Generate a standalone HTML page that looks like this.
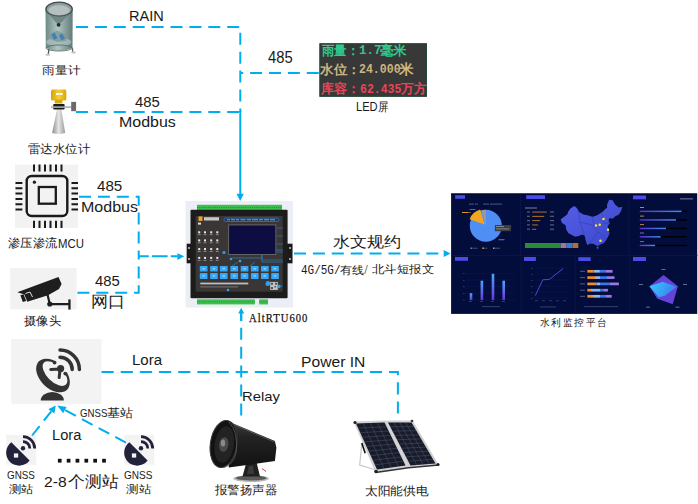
<!DOCTYPE html>
<html><head><meta charset="utf-8">
<style>
html,body{margin:0;padding:0;background:#fff;width:698px;height:504px;overflow:hidden;position:relative}
body{font-family:"Liberation Sans",sans-serif}
.t{position:absolute;white-space:nowrap;line-height:1;transform-origin:0 0}
svg{position:absolute;left:0;top:0}
</style></head><body>
<svg width="698" height="504" viewBox="0 0 698 504">
<defs>
<linearGradient id="gBody" x1="0" x2="1" y1="0" y2="0"><stop offset="0" stop-color="#6d8986"/><stop offset="0.45" stop-color="#b2c5c1"/><stop offset="1" stop-color="#5f7b78"/></linearGradient>
<linearGradient id="gCone" x1="0" x2="1"><stop offset="0" stop-color="#8c8c8c"/><stop offset="0.5" stop-color="#e6e6e6"/><stop offset="1" stop-color="#9a9a9a"/></linearGradient>
<linearGradient id="gYel" x1="0" x2="1"><stop offset="0" stop-color="#d9a400"/><stop offset="0.5" stop-color="#f5cf3a"/><stop offset="1" stop-color="#d8a800"/></linearGradient>
<linearGradient id="gBar" x1="0" x2="0" y1="0" y2="1"><stop offset="0" stop-color="#4aa6ff"/><stop offset="1" stop-color="#6a35e0"/></linearGradient>
<linearGradient id="gHB" x1="0" x2="1"><stop offset="0" stop-color="#5b2fd6"/><stop offset="1" stop-color="#3f8df0"/></linearGradient>
<linearGradient id="gRad" x1="0" x2="1" y1="0" y2="0.3"><stop offset="0" stop-color="#36ccff"/><stop offset="1" stop-color="#3a82ee"/></linearGradient>
<linearGradient id="gMap" x1="0" x2="1" y1="0" y2="1"><stop offset="0" stop-color="#5560e8"/><stop offset="1" stop-color="#3a46c8"/></linearGradient>
<linearGradient id="gSpk" x1="0" x2="0" y1="0" y2="1"><stop offset="0" stop-color="#404040"/><stop offset="0.35" stop-color="#222"/><stop offset="1" stop-color="#121212"/></linearGradient>
</defs>

<!-- ===== Rain gauge ===== -->
<g id="rain">
<path d="M45.5,9 L45.8,48 Q59,54 72.5,48 L72.7,9Z" fill="url(#gBody)"/>
<path d="M47,12 L58.6,25.5 L71,12Z" fill="#667f7d" opacity="0.85"/>
<circle cx="58.6" cy="24.8" r="1.9" fill="#222c2c"/>
<ellipse cx="58.8" cy="42" rx="12.5" ry="4.2" fill="#a9bcb9" opacity="0.8"/>
<path d="M50,34 L57,30.5 L67,35 L66,41 L57,42 L50,39Z" fill="#7d9896" opacity="0.8"/>
<path d="M51.5,34.5 L54.5,32.5 L57.5,38 L54,40Z" fill="#3f82b8"/>
<path d="M59,35.5 L62,33.5 L65,38.5 L61.5,40.5Z" fill="#3f82b8"/>
<ellipse cx="59.1" cy="48" rx="13.2" ry="3" fill="none" stroke="#4f6563" stroke-width="0.8"/>
<ellipse cx="59.1" cy="9" rx="13.8" ry="7.6" fill="#3e4a4a"/>
<ellipse cx="59.1" cy="9.2" rx="12.4" ry="6.4" fill="#8f9d9d"/>
<ellipse cx="59.1" cy="10.2" rx="10.6" ry="5" fill="#b5bfbf"/>
<path d="M49,49 L48.2,54.5" stroke="#555" stroke-width="1.3"/>
<path d="M72.4,48 L72.8,52.5" stroke="#666" stroke-width="1.3"/>
<ellipse cx="47.8" cy="54.8" rx="2.6" ry="1.1" fill="#c8c8c8"/>
<ellipse cx="73.6" cy="52.6" rx="2.6" ry="1.1" fill="#c8c8c8"/>
</g>

<!-- ===== Radar level gauge ===== -->
<g id="radar">
<path d="M57,109.5 L61.4,109.5 L65.2,133 Q58.6,135 52.1,133Z" fill="url(#gCone)"/>
<rect x="51" y="89.4" width="15.3" height="11" rx="1.5" fill="url(#gYel)"/>
<rect x="54.8" y="99.5" width="7.6" height="4" fill="#d9aa10"/>
<rect x="56" y="93" width="3" height="2" fill="#fff"/><rect x="59.5" y="93" width="3" height="2" fill="#fff"/>
<rect x="53.2" y="104" width="11.4" height="5.5" rx="1" fill="#1a1a1a"/>
<rect x="51" y="106.3" width="21" height="1.6" fill="#9fb3b8"/>
<rect x="71.2" y="101.9" width="4.9" height="9.3" fill="#6a6a6a"/>
</g>

<!-- ===== MCU chip ===== -->
<g id="mcu">
<rect x="15" y="164.6" width="63" height="63.4" fill="#f2f2f2"/>
<rect x="26.7" y="176" width="40.6" height="40" rx="5" fill="none" stroke="#1a1a1a" stroke-width="2.4"/>
<rect x="38.8" y="187" width="17" height="16.7" fill="none" stroke="#1a1a1a" stroke-width="2.3"/>
<circle cx="34.4" cy="182.2" r="1.6" fill="#1a1a1a"/>
<g stroke="#1a1a1a" stroke-width="2">
<path d="M34,164.6V171.5 M39.5,164.6V171.5 M45,164.6V171.5 M50.5,164.6V171.5 M56,164.6V171.5 M61.5,164.6V171.5"/>
<path d="M34,220.7V228 M39.5,220.7V228 M45,220.7V228 M50.5,220.7V228 M56,220.7V228 M61.5,220.7V228"/>
<path d="M15.5,183H22.4 M15.5,188.3H22.4 M15.5,193.6H22.4 M15.5,198.9H22.4 M15.5,204.2H22.4 M15.5,209.5H22.4"/>
<path d="M71.5,183H78 M71.5,188.3H78 M71.5,193.6H78 M71.5,198.9H78 M71.5,204.2H78 M71.5,209.5H78"/>
</g>
</g>

<!-- ===== Camera ===== -->
<g id="cam">
<rect x="10.1" y="267.9" width="66.5" height="41.5" fill="#f2f2f2"/>
<path d="M17.3,292.3 L58.5,276.9 L61.6,284.1 L59,289 L48,295.3 L27.3,301.8 L24.3,294.6Z" fill="#1e1e1e"/>
<path d="M25.5,293.5 L30,292 L32.5,297" fill="none" stroke="#f2f2f2" stroke-width="0.9"/>
<path d="M20.4,295.2 L23.6,294.2 L26.2,301 L22.8,302Z" fill="#1e1e1e"/>
<path d="M47.5,294.5 L49.8,304.2 L69,304.2" fill="none" stroke="#1e1e1e" stroke-width="2.2"/>
<circle cx="49.8" cy="304" r="2.6" fill="#1e1e1e"/>
<rect x="68.3" y="299.4" width="2.3" height="10.2" fill="#1e1e1e"/>
</g>

<!-- ===== LED panel ===== -->
<g id="led">
<rect x="319.5" y="43.3" width="107.4" height="53.4" fill="#383838"/>
<rect x="319.9" y="43.8" width="106.6" height="52.5" fill="none" stroke="#1f4a36" stroke-width="0.9"/>
</g>

<!-- ===== RTU ===== -->
<g id="rtu">
<rect x="185.5" y="201" width="107.5" height="106.6" fill="#ebeff5"/>
<rect x="197" y="204.8" width="85" height="5.2" fill="#3cbf4c"/>
<rect x="197" y="299.3" width="57.9" height="5.1" fill="#3cbf4c"/>
<rect x="259.2" y="299.3" width="8.8" height="5.1" fill="#3cbf4c"/>
<path d="M197,207.5H282 M197,301.8H255 M259,301.8H268" stroke="#1d6a2a" stroke-width="0.6" stroke-dasharray="1 1.2"/>
<rect x="186.7" y="243.7" width="5" height="19.6" fill="#1a1a1a"/>
<rect x="286.9" y="243.7" width="5.6" height="19.6" fill="#1a1a1a"/>
<circle cx="189" cy="248" r="0.9" fill="#ddd"/><circle cx="189" cy="259" r="0.9" fill="#ddd"/>
<circle cx="290" cy="248" r="0.9" fill="#ddd"/><circle cx="290" cy="259" r="0.9" fill="#ddd"/>
<rect x="190.5" y="209.8" width="97.1" height="88.5" rx="1" fill="#1c1c1c"/>
<rect x="195.7" y="216" width="87" height="75.7" fill="#3a3636"/>
<path d="M262,255 V262 H283 M270,250 H283 M255,262 L250,266 M232,258 H262 M272,286 H283 M238,262 L232,266" stroke="#2a8ee0" stroke-width="0.6" fill="none"/>
<circle cx="224" cy="252.5" r="1.6" fill="#2a9ff0"/><circle cx="231" cy="259" r="1.3" fill="#2a9ff0"/><circle cx="240" cy="261" r="1.3" fill="#36a6f6"/>
<circle cx="268" cy="283" r="2" fill="#2a9ff0"/><circle cx="228" cy="290" r="1.2" fill="#36a6f6"/>
<rect x="198.5" y="216.4" width="4" height="4.5" fill="#f0a030"/>
<rect x="204" y="217.2" width="15" height="3.3" fill="#c8c8c8"/>
<rect x="223.9" y="218.1" width="55" height="3.4" rx="1.7" fill="#2f3440" stroke="#2a8cff" stroke-width="0.6"/>
<path d="M227,219.8h3M231,219.8h4M236,219.8h3M240.5,219.8h5M247,219.8h4M252,219.8h6M259,219.8h4M264,219.8h5M270,219.8h5" stroke="#5aaaff" stroke-width="1.1"/>
<rect x="198" y="222.6" width="3" height="2" fill="#ddd"/>
<rect x="228.2" y="224.5" width="48.1" height="30.5" fill="#6a6a6a"/>
<rect x="229.1" y="225.4" width="46.3" height="28.7" fill="#0d0d42"/>
<rect x="198.2" y="231.3" width="2" height="2" fill="#e8e8e8"/><rect x="197.7" y="234.3" width="3" height="0.8" fill="#9a9a9a"/>
<rect x="204.0" y="231.3" width="2" height="2" fill="#e8e8e8"/><rect x="203.5" y="234.3" width="3" height="0.8" fill="#9a9a9a"/>
<rect x="210.2" y="231.3" width="2" height="2" fill="#e8e8e8"/><rect x="209.7" y="234.3" width="3" height="0.8" fill="#9a9a9a"/>
<rect x="216.3" y="231.3" width="2" height="2" fill="#e8e8e8"/><rect x="215.8" y="234.3" width="3" height="0.8" fill="#9a9a9a"/>
<rect x="198.2" y="239.4" width="2" height="2" fill="#e8e8e8"/><rect x="197.7" y="242.4" width="3" height="0.8" fill="#9a9a9a"/>
<rect x="204.0" y="239.4" width="2" height="2" fill="#e8e8e8"/><rect x="203.5" y="242.4" width="3" height="0.8" fill="#9a9a9a"/>
<rect x="210.2" y="239.4" width="2" height="2" fill="#e8e8e8"/><rect x="209.7" y="242.4" width="3" height="0.8" fill="#9a9a9a"/>
<rect x="216.3" y="239.4" width="2" height="2" fill="#e8e8e8"/><rect x="215.8" y="242.4" width="3" height="0.8" fill="#9a9a9a"/>
<rect x="198.2" y="248.1" width="2" height="2" fill="#e8e8e8"/><rect x="197.7" y="251.1" width="3" height="0.8" fill="#9a9a9a"/>
<rect x="204.0" y="248.1" width="2" height="2" fill="#e8e8e8"/><rect x="203.5" y="251.1" width="3" height="0.8" fill="#9a9a9a"/>
<rect x="210.2" y="248.1" width="2" height="2" fill="#e8e8e8"/><rect x="209.7" y="251.1" width="3" height="0.8" fill="#9a9a9a"/>
<rect x="216.3" y="248.1" width="2" height="2" fill="#e8e8e8"/><rect x="215.8" y="251.1" width="3" height="0.8" fill="#9a9a9a"/>
<rect x="198.2" y="256.9" width="2" height="2" fill="#e8e8e8"/><rect x="197.7" y="259.9" width="3" height="0.8" fill="#9a9a9a"/>
<rect x="204.0" y="256.9" width="2" height="2" fill="#e8e8e8"/><rect x="203.5" y="259.9" width="3" height="0.8" fill="#9a9a9a"/>
<rect x="210.2" y="256.9" width="2" height="2" fill="#e8e8e8"/><rect x="209.7" y="259.9" width="3" height="0.8" fill="#9a9a9a"/>
<rect x="216.3" y="256.9" width="2" height="2" fill="#e8e8e8"/><rect x="215.8" y="259.9" width="3" height="0.8" fill="#9a9a9a"/>
<rect x="199.8" y="266" width="7.7" height="5.6" rx="0.6" fill="#36a6f6"/>
<rect x="210.1" y="266" width="7.7" height="5.6" rx="0.6" fill="#36a6f6"/>
<rect x="219.9" y="266" width="7.7" height="5.6" rx="0.6" fill="#36a6f6"/>
<rect x="230.4" y="266" width="7.7" height="5.6" rx="0.6" fill="#36a6f6"/>
<rect x="240.7" y="266" width="7.7" height="5.6" rx="0.6" fill="#36a6f6"/>
<rect x="250.9" y="266" width="7.7" height="5.6" rx="0.6" fill="#36a6f6"/>
<rect x="261" y="266" width="7.7" height="5.6" rx="0.6" fill="#36a6f6"/>
<rect x="271.2" y="266" width="7.7" height="5.6" rx="0.6" fill="#36a6f6"/>
<rect x="199.8" y="273.1" width="7.7" height="5.9" rx="0.6" fill="#36a6f6"/>
<rect x="210.1" y="273.1" width="7.7" height="5.9" rx="0.6" fill="#36a6f6"/>
<rect x="219.9" y="273.1" width="7.7" height="5.9" rx="0.6" fill="#36a6f6"/>
<rect x="230.4" y="273.1" width="7.7" height="5.9" rx="0.6" fill="#36a6f6"/>
<rect x="240.7" y="273.1" width="7.7" height="5.9" rx="0.6" fill="#36a6f6"/>
<rect x="250.9" y="273.1" width="7.7" height="5.9" rx="0.6" fill="#36a6f6"/>
<rect x="261" y="273.1" width="7.7" height="5.9" rx="0.6" fill="#36a6f6"/>
<rect x="271.2" y="273.1" width="7.7" height="5.9" rx="0.6" fill="#36a6f6"/>
<path d="M202.4,268.8h2.5M212.7,268.8h2.5M222.5,268.8h2.5M233.0,268.8h2.5M243.3,268.8h2.5M253.5,268.8h2.5M263.6,268.8h2.5M273.8,268.8h2.5M202.4,275.9h2.5M212.7,275.9h2.5M222.5,275.9h2.5M233.0,275.9h2.5M243.3,275.9h2.5M253.5,275.9h2.5M263.6,275.9h2.5M273.8,275.9h2.5" stroke="#d8f0ff" stroke-width="0.8"/>
<path d="M277,228H283M277,236H283M277,244H283M277,252H283M262,255V260H283" stroke="#2a8ee0" stroke-width="0.5" fill="none"/>
<rect x="200.3" y="282.6" width="48" height="1.8" fill="#bdbdbd"/>
<rect x="200.3" y="286.4" width="38" height="1" fill="#777"/>
<rect x="270.2" y="281.9" width="7.6" height="8" fill="#c4c4c4"/>
<path d="M271,282.7h2v2h-2z M275,282.7h2v2h-2z M271,286.9h2v2h-2z M274.5,286h1.5v1.5h-1.5z" fill="#555"/>
<circle cx="267.8" cy="283.7" r="2.3" fill="#2aa3f5"/><circle cx="278.9" cy="286.5" r="1.7" fill="#2aa3f5"/>
</g>

<!-- ===== Dashboard ===== -->
<g id="dash">
<rect x="451.1" y="193.5" width="245.9" height="120.4" fill="#030d3c"/>
<rect x="451.1" y="193.5" width="245.9" height="1" fill="#020626"/>
<rect x="697" y="193.5" width="1" height="120.4" fill="#c8cad4"/>
<g stroke="#0f1a55" stroke-width="0.6">
<path d="M520.4,194V255.4 M628.8,194V255.4 M521.3,255.4V313.7 M575,255.4V313.7 M629.4,255.4V313.7 M451.2,255.4H697.6"/>
</g>
<g fill="#4b4be8">
<rect x="455.2" y="195.2" width="9.8" height="3.6"/>
<rect x="526.2" y="195.2" width="18.8" height="3.8"/>
<rect x="633" y="195.5" width="13" height="3.8"/>
<rect x="455" y="257" width="13" height="3.8"/>
<rect x="524" y="257" width="11.9" height="4"/>
<rect x="578.3" y="257.2" width="12.4" height="3.8"/>
<rect x="633" y="257" width="13" height="4"/>
</g>
<!-- pie -->
<circle cx="485.8" cy="225.8" r="16" fill="#4f8ef5"/>
<path d="M485.8,225.8 L481.6,210.4 A16,16 0 0 1 485.8,209.8Z" fill="#9a9a9a"/>
<path d="M484.6,224.6 L469.6,219.2 A16,16 0 0 1 480.2,209.6Z" fill="#f5a41e"/>
<rect x="494.9" y="225" width="16.2" height="6.2" fill="#3c3c44"/>
<rect x="496" y="226" width="8" height="0.8" fill="#999"/><rect x="496" y="228.5" width="13" height="0.8" fill="#999"/>
<g fill="#9aa0c0" opacity="0.5"><rect x="469" y="203.6" width="5" height="1"/><rect x="475" y="203.6" width="3" height="1"/><rect x="483" y="203.6" width="6" height="1"/><rect x="490" y="203.6" width="12" height="1"/></g>
<rect x="462" y="212" width="6" height="0.9" fill="#f5a41e"/><rect x="468" y="212.3" width="3" height="0.5" fill="#f5a41e"/>
<rect x="469.5" y="209" width="6" height="0.9" fill="#aaa" opacity="0.6"/>
<rect x="498.5" y="239.3" width="6" height="0.9" fill="#4f8ef5"/>
<rect x="470.5" y="247.5" width="1.6" height="1.4" fill="#4f8ef5"/><rect x="482.3" y="247.5" width="1.6" height="1.4" fill="#f5a41e"/><rect x="493" y="247.5" width="1.6" height="1.4" fill="#aaa"/><g fill="#9aa0c0" opacity="0.45"><rect x="472.5" y="247.7" width="5" height="1"/><rect x="484.3" y="247.7" width="3" height="1"/><rect x="495" y="247.7" width="5" height="1"/></g>
<!-- map panel -->
<path d="M560.6,219.5 L563.1,217.4 L567.2,214.5 L568.2,211.7 L570.2,208.8 L574.2,205.9 L576.3,207.4 L578.3,210.2 L578.8,211.7 L583.3,214.5 L587.4,215.2 L592.4,216.7 L595.4,215.9 L598.5,214.5 L601.5,212.4 L603.5,210.9 L605.5,208.8 L607.1,208.1 L607.1,204.5 L609.1,199.8 L612.6,200.2 L615.1,204.5 L618.7,207.4 L622.4,207.1 L620.7,211.7 L618.7,214.5 L617.7,215.2 L615.6,215.9 L612.6,218.8 L609.6,218.1 L608.6,220.2 L609.6,222.4 L606.5,223.1 L610.1,223.1 L607.6,226.0 L608.6,230.3 L609.6,233.1 L608.1,236.7 L606.5,239.5 L604.0,243.1 L600.5,244.6 L597.5,246.0 L595.9,245.3 L593.4,243.8 L589.4,243.8 L587.4,245.3 L585.8,241.0 L584.8,236.0 L582.3,234.5 L578.8,236.0 L575.2,236.7 L572.2,235.3 L568.2,233.1 L566.2,229.5 L565.6,225.2 L562.1,223.1Z M596.5,247 L598.5,246.5 L598.8,248.5 L596.8,248.8Z" fill="url(#gMap)"/>
<path d="M578.3,210.2 L580,222 L584.8,236 M580,222 L592,225 L598,232 L606.5,239.5 M592.4,216.7 L594,226 M598,232 L589.4,243.8 M601.5,212.4 L604,224 L609.6,222.4" stroke="#2f38a8" stroke-width="0.5" fill="none"/>
<g fill="#f7e23a"><circle cx="603.5" cy="219" r="1.3"/><circle cx="596" cy="225.5" r="1.2"/><circle cx="599.7" cy="224.8" r="1.2"/><circle cx="608" cy="229.7" r="1.2"/><circle cx="600.5" cy="240.8" r="1.3"/></g>
<rect x="525" y="207.5" width="12" height="1" fill="#ccc" opacity="0.6"/>
<g fill="#c07a2a"><rect x="532.2" y="211.6" width="14.6" height="0.9"/><rect x="532.2" y="215.9" width="12" height="0.9"/><rect x="532.2" y="220.2" width="8" height="0.9"/><rect x="532.2" y="224.5" width="6" height="0.9"/><rect x="532.2" y="228.8" width="4" height="0.9"/></g>
<g fill="#aab" opacity="0.5"><rect x="527" y="211.4" width="3" height="1.2"/><rect x="527" y="215.7" width="3" height="1.2"/><rect x="527" y="220" width="3" height="1.2"/><rect x="527" y="224.3" width="3" height="1.2"/><rect x="527" y="228.6" width="3" height="1.2"/><rect x="550" y="211.4" width="4" height="1.2"/><rect x="550" y="215.7" width="4" height="1.2"/><rect x="550" y="220" width="4" height="1.2"/><rect x="550" y="224.3" width="4" height="1.2"/><rect x="550" y="228.6" width="4" height="1.2"/></g>
<rect x="525" y="243" width="35.6" height="5" fill="#2a8a3c"/>
<rect x="560.6" y="243" width="6" height="5" fill="#9a7a98"/>
<rect x="566.6" y="243" width="6" height="5" fill="#3a7ccc"/>
<rect x="572.6" y="243" width="5.7" height="5" fill="#b0703a"/>
<!-- bars panel -->
<g fill="#000">
<rect x="639.7" y="210.6" width="47.3" height="1.5"/><rect x="639.7" y="219.2" width="47.3" height="1.5"/><rect x="639.7" y="227.7" width="47.3" height="1.5"/><rect x="639.7" y="236.1" width="47.3" height="1.5"/><rect x="639.7" y="244.7" width="47.3" height="1.5"/>
</g>
<g fill="url(#gHB)">
<rect x="639.7" y="210.6" width="41.9" height="1.5"/><rect x="639.7" y="219.2" width="36.3" height="1.5"/><rect x="639.7" y="227.7" width="26.3" height="1.5"/><rect x="639.7" y="236.1" width="20.9" height="1.5"/><rect x="639.7" y="244.7" width="15.3" height="1.5"/>
</g>
<g fill="#d8b040" opacity="0.8"><rect x="640" y="207" width="4" height="1"/><rect x="640" y="215.6" width="4" height="1"/><rect x="640" y="224.1" width="4" height="1"/></g>
<g fill="#bbb" opacity="0.6"><rect x="640" y="232.5" width="4" height="1"/><rect x="640" y="241.1" width="4" height="1"/><rect x="680" y="198.3" width="13" height="1.1"/></g>
<!-- bar chart -->
<g stroke="#0f1a58" stroke-width="0.4"><path d="M466,273.5H515 M466,280H515 M466,286.5H515 M466,293H515 M466,300H515"/></g>
<g fill="url(#gBar)">
<rect x="469.7" y="293.2" width="2.6" height="6.8"/><rect x="480.6" y="280.7" width="2.6" height="19.3"/><rect x="491.7" y="273.8" width="2.6" height="26.2"/><rect x="502.4" y="280.7" width="2.6" height="19.3"/>
</g>
<rect x="482" y="306.2" width="18" height="0.9" fill="#8a9ac8" opacity="0.4"/>
<!-- line chart -->
<g stroke="#0f1a58" stroke-width="0.4"><path d="M534,268H568 M534,274H568 M534,280H568 M534,286H568 M534,292H568 M534,298H568"/></g>
<path d="M535.3,295.6 L542.8,279.8 L549.3,279.4 L563.2,268.6" fill="none" stroke="#5a4ae8" stroke-width="0.9"/>
<g fill="#8a9ac8" opacity="0.35"><rect x="535" y="300.3" width="3" height="0.9"/><rect x="542" y="300.3" width="3" height="0.9"/><rect x="549" y="300.3" width="3" height="0.9"/><rect x="556" y="300.3" width="3" height="0.9"/><rect x="563" y="300.3" width="3" height="0.9"/><rect x="531" y="268" width="1.6" height="0.8"/><rect x="531" y="274" width="1.6" height="0.8"/><rect x="531" y="280" width="1.6" height="0.8"/><rect x="531" y="286" width="1.6" height="0.8"/><rect x="531" y="292" width="1.6" height="0.8"/><rect x="531" y="298" width="1.6" height="0.8"/><rect x="469" y="301" width="3" height="0.9"/><rect x="480" y="301" width="3" height="0.9"/><rect x="491" y="301" width="3" height="0.9"/><rect x="502" y="301" width="3" height="0.9"/><rect x="463" y="273.2" width="1.6" height="0.8"/><rect x="463" y="280" width="1.6" height="0.8"/><rect x="463" y="286.3" width="1.6" height="0.8"/><rect x="463" y="293" width="1.6" height="0.8"/><rect x="463" y="299.6" width="1.6" height="0.8"/></g>
<rect x="540" y="306.5" width="16" height="0.9" fill="#8a9ac8" opacity="0.4"/>
<!-- stacked bars -->
<rect x="587.3" y="269.95" width="6.3" height="2.7" fill="#f28c1e"/>
<rect x="593.6" y="269.95" width="6.3" height="2.7" fill="#8ab8f0"/>
<rect x="599.9" y="269.95" width="6.1" height="2.7" fill="#3a78e8"/>
<rect x="606" y="269.95" width="6.6" height="2.7" fill="#9a7ae0"/>
<rect x="580" y="270.80" width="5" height="1" fill="#aab" opacity="0.5"/>
<rect x="587.3" y="276.25" width="7.7" height="2.7" fill="#f28c1e"/>
<rect x="595" y="276.25" width="5.0" height="2.7" fill="#8ab8f0"/>
<rect x="600" y="276.25" width="7.0" height="2.7" fill="#3a78e8"/>
<rect x="607" y="276.25" width="7.5" height="2.7" fill="#9a7ae0"/>
<rect x="580" y="277.10" width="5" height="1" fill="#aab" opacity="0.5"/>
<rect x="587.3" y="282.55" width="9.1" height="2.7" fill="#f28c1e"/>
<rect x="596.4" y="282.55" width="3.6" height="2.7" fill="#8ab8f0"/>
<rect x="600" y="282.55" width="9.8" height="2.7" fill="#3a78e8"/>
<rect x="609.8" y="282.55" width="9.1" height="2.7" fill="#9a7ae0"/>
<rect x="580" y="283.40" width="5" height="1" fill="#aab" opacity="0.5"/>
<rect x="587.3" y="288.85" width="3.7" height="2.7" fill="#f28c1e"/>
<rect x="591" y="288.85" width="9.0" height="2.7" fill="#8ab8f0"/>
<rect x="600" y="288.85" width="4.0" height="2.7" fill="#3a78e8"/>
<rect x="604" y="288.85" width="3.9" height="2.7" fill="#9a7ae0"/>
<rect x="580" y="289.70" width="5" height="1" fill="#aab" opacity="0.5"/>
<rect x="587.3" y="294.95" width="5.7" height="2.7" fill="#f28c1e"/>
<rect x="593" y="294.95" width="7.0" height="2.7" fill="#8ab8f0"/>
<rect x="600" y="294.95" width="6.0" height="2.7" fill="#3a78e8"/>
<rect x="606" y="294.95" width="5.7" height="2.7" fill="#9a7ae0"/>
<rect x="580" y="295.80" width="5" height="1" fill="#aab" opacity="0.5"/>
<rect x="584" y="306.2" width="34" height="0.9" fill="#8a9ac8" opacity="0.4"/>
<!-- radar -->
<path d="M663.4,276 L677.5,286.3 L672.1,302.8 L654.7,302.8 L649.3,286.3Z" fill="none" stroke="#0a1448" stroke-width="0.5"/>
<path d="M663.6,274.9 L677.9,286.3 L672.7,304.2 L657.3,298.7 L649.4,286.3Z" fill="#6443d8"/>
<path d="M649.4,286.3 L662.8,281.8 L676.7,286.8 L664.8,295.7 L658.8,297.2Z" fill="url(#gRad)"/>
<g fill="#c8cce0" opacity="0.55"><rect x="661.5" y="269" width="4" height="0.9"/><rect x="683" y="284" width="4" height="0.9"/><rect x="639" y="284" width="4" height="0.9"/><rect x="646" y="306.7" width="4" height="0.9"/><rect x="675.5" y="306.7" width="4" height="0.9"/></g>
</g>

<!-- ===== GNSS base ===== -->
<g id="gnss">
<rect x="11.2" y="339" width="90.3" height="65.1" fill="#f3f3f3"/>
<g transform="translate(53 375.5) rotate(45)">
<path fill-rule="evenodd" fill="#333" d="M-20,0 A20,13 0 1 0 20,0 A20,13 0 1 0 -20,0Z M-15.5,-2.8 A15.5,8 0 1 0 15.5,-2.8 A15.5,8 0 1 0 -15.5,-2.8Z"/>
</g>
<path d="M55.5,372.5 L54.6,355 L62,352 L80,366 L80,373.6Z" fill="#f3f3f3"/>
<circle cx="54.6" cy="362.6" r="1.9" fill="#333"/>
<circle cx="65.3" cy="373.6" r="1.9" fill="#333"/>
<circle cx="60.6" cy="368.6" r="3.6" fill="#333"/>
<path d="M60,369 L50.8,369.6 M60,369 L59.2,377.6" stroke="#333" stroke-width="3" stroke-linecap="round"/>
<path d="M60,357.2 A12.2,12.2 0 0 1 72.2,369.4 M60,350 A19.4,19.4 0 0 1 79.4,369.4" fill="none" stroke="#333" stroke-width="3.5" stroke-linecap="round"/>
<path d="M40.7,400.6 A11.6,8.6 0 0 1 63.9,400.6Z" fill="#333"/>
</g>

<!-- ===== small GNSS ===== -->
<g id="gs1">
<rect x="6.3" y="434.8" width="30" height="30" fill="#f3f3f3"/>
<path d="M11.3,442.3 A13,13 0 1 0 29.6,460.4Z" fill="#22223a"/>
<rect x="13.9" y="453.4" width="4.3" height="4.2" fill="#f3f3f3"/>
<circle cx="23" cy="448.3" r="2.2" fill="#22223a"/>
<path d="M23,441.6 A6.8,6.8 0 0 1 29.8,448.4 M23,436.7 A11.7,11.7 0 0 1 34.7,448.4" fill="none" stroke="#22223a" stroke-width="2.8"/>
</g>
<use href="#gs1" x="118" y="0"/>
<g fill="#111">
<rect x="57.9" y="458.8" width="3.7" height="3.8"/><rect x="66.75" y="458.8" width="3.7" height="3.8"/><rect x="75.6" y="458.8" width="3.7" height="3.8"/><rect x="84.45" y="458.8" width="3.7" height="3.8"/><rect x="93.3" y="458.8" width="3.7" height="3.8"/><rect x="102.15" y="458.8" width="3.7" height="3.8"/>
</g>

<!-- ===== speaker ===== -->
<g id="spk">
<ellipse cx="251.1" cy="478.6" rx="17.8" ry="3.4" fill="#b4b4b4"/>
<ellipse cx="251.1" cy="478" rx="15.2" ry="2.5" fill="#5a5a5a"/>
<path d="M246.5,462 L256.5,462 L260,476.5 L242.5,476.5Z" fill="#202020"/>
<path d="M249,466 L253,466 L254,474 L247,474Z" fill="#3a3a3a"/>
<path d="M262,468.5 L266,471.5" stroke="#c03030" stroke-width="0.9"/>
<path d="M227.3,420.9 L274.9,441 L276.4,447.7 L274.9,461 L228.8,467.5Z" fill="url(#gSpk)"/>
<path d="M229,422.5 L274.5,442" stroke="#6a6a6a" stroke-width="0.7"/>
<ellipse cx="223.6" cy="444" rx="13.2" ry="23.8" transform="rotate(9 223.6 444)" fill="#121212" stroke="#3a3a3a" stroke-width="1"/>
<ellipse cx="224.3" cy="444.5" rx="9.6" ry="18.5" transform="rotate(9 224.3 444.5)" fill="#232323"/>
<path d="M229,422 Q238.5,432 236.2,452 Q234,464 224,467.6" fill="none" stroke="#5a5a5a" stroke-width="0.8"/>
<ellipse cx="223.8" cy="444.5" rx="4.6" ry="7.4" transform="rotate(9 223.8 444.5)" fill="#4a4a4a"/>
<ellipse cx="223" cy="443" rx="2.2" ry="3.6" fill="#8a8a8a"/>
</g>

<!-- ===== solar ===== -->
<g id="solar">
<path d="M361.8,443.6 L359.7,465 L375.5,469.8" fill="none" stroke="#c8c8c8" stroke-width="1.2"/>
<path d="M353.5,421.6 L385.8,420.5 L408.5,467.7 L375.5,472.5Z" fill="#d0d0d0"/>
<path d="M385.8,420.5 L412.6,420.5 L438.8,465 L408.5,467.7Z" fill="#d0d0d0"/>
<path d="M356,423.5 L384.5,422.5 L405.5,465.5 L377,469.5Z" fill="#171b2a"/>
<path d="M388,422.5 L411.5,422.5 L435.5,463.5 L410.5,465.5Z" fill="#171b2a"/>
<path d="M363.1,423.2L384.1,468.5M370.2,423.0L391.2,467.5M377.4,422.8L398.4,466.5M358.1,428.1L386.6,426.8M360.2,432.7L388.7,431.1M362.3,437.3L390.8,435.4M364.4,441.9L392.9,439.7M366.5,446.5L395.0,444.0M368.6,451.1L397.1,448.3M370.7,455.7L399.2,452.6M372.8,460.3L401.3,456.9M374.9,464.9L403.4,461.2M393.9,422.5L416.8,465.0M399.8,422.5L423.0,464.5M405.6,422.5L429.2,464.0M390.2,426.8L413.9,426.6M392.5,431.1L416.3,430.7M394.8,435.4L418.7,434.8M397.0,439.7L421.1,438.9M399.2,444.0L423.5,443.0M401.5,448.3L425.9,447.1M403.8,452.6L428.3,451.2M406.0,456.9L430.7,455.3M408.2,461.2L433.1,459.4" stroke="#50566c" stroke-width="0.5" fill="none"/>
<path d="M361.8,443 L365.2,453.3" stroke="#111" stroke-width="1.6"/>
<circle cx="355" cy="422.5" r="1.6" fill="#222"/><path d="M375.5,472.5 L408.5,467.7 L438.8,465" stroke="#333" stroke-width="1.4" fill="none"/><circle cx="376" cy="471.5" r="1.8" fill="#222"/><circle cx="438" cy="464.5" r="1.6" fill="#222"/><circle cx="412" cy="421" r="1.3" fill="#333"/>
</g>

<!-- LINES -->
<g fill="none" stroke="#00adef" stroke-width="2" stroke-dasharray="12 6.9">
<path d="M76,27 H240.3 V112"/>
<path d="M76,112.1 H240.3"/>
<path d="M240.3,73 H319" stroke-dashoffset="9.1"/>
<path d="M79,196.7 H138.7 V256.3"/>
<path d="M77.4,292.7 H138.7 V256.3"/>
<path d="M138.4,256.2 H177.5" stroke-dasharray="15.6 3.2" stroke-dashoffset="5.2"/>
<path d="M294,253.5 H444"/>
<path d="M101.5,371.9 H397.9 V413.9" stroke-dasharray="12.2 6.97"/>
<path d="M241.2,415.4 V313"/>
<path d="M32.1,435.5 L51.5,411"/>
<path d="M125.9,442.6 L63,409"/>
</g>
<g stroke="#00adef" stroke-width="2" fill="none">
<path d="M240.3,111 V194"/>
<path d="M241.2,313 V320.8"/>
</g>
<g fill="#00adef">
<path d="M236.6,193.8 L243.8,193.8 L240.2,200.9Z"/>
<path d="M177.3,253.2 L184.3,256.2 L177.3,260Z"/>
<path d="M443.7,249.9 L450.5,253.5 L443.7,257.1Z"/>
<path d="M238.2,313.6 L244.2,313.6 L241.2,307.8Z"/>
<path d="M55.7,405.5 L54.4,413.6 L48.3,409.2Z"/>
<path d="M57.3,405.5 L66.6,406.9 L63.1,413.3Z"/>
</g>
</svg>
<div class="t" style="left:129.44px;top:9.03px;font-family:'Liberation Sans', sans-serif;font-size:14.68px;color:#1a1a1a;transform:scaleX(0.992);">RAIN</div>
<div class="t" style="left:134.52px;top:93.68px;font-family:'Liberation Sans', sans-serif;font-size:15.27px;color:#1a1a1a;transform:scaleX(0.975);">485</div>
<div class="t" style="left:118.57px;top:115.03px;font-family:'Liberation Sans', sans-serif;font-size:14.17px;color:#1a1a1a;transform:scaleX(1.128);">Modbus</div>
<div class="t" style="left:267.56px;top:48.86px;font-family:'Liberation Sans', sans-serif;font-size:16.11px;color:#1a1a1a;transform:scaleX(0.917);">485</div>
<div class="t" style="left:97.40px;top:178.88px;font-family:'Liberation Sans', sans-serif;font-size:14.86px;color:#1a1a1a;transform:scaleX(1.020);">485</div>
<div class="t" style="left:81.30px;top:199.53px;font-family:'Liberation Sans', sans-serif;font-size:14.67px;color:#1a1a1a;transform:scaleX(1.092);">Modbus</div>
<div class="t" style="left:94.76px;top:273.77px;font-family:'Liberation Sans', sans-serif;font-size:14.95px;color:#1a1a1a;transform:scaleX(0.994);">485</div>
<div class="t" style="left:90.60px;top:293.83px;font-family:'Liberation Sans', sans-serif;font-size:15.56px;color:#1a1a1a;transform:scaleX(1.068);">网口</div>
<div class="t" style="left:132.17px;top:352.29px;font-family:'Liberation Sans', sans-serif;font-size:15.43px;color:#1a1a1a;transform:scaleX(0.976);">Lora</div>
<div class="t" style="left:300.62px;top:354.74px;font-family:'Liberation Sans', sans-serif;font-size:14.86px;color:#1a1a1a;transform:scaleX(1.053);">Power IN</div>
<div class="t" style="left:242.48px;top:391.02px;font-family:'Liberation Sans', sans-serif;font-size:12.84px;color:#1a1a1a;transform:scaleX(1.158);">Relay</div>
<div class="t" style="left:52.30px;top:427.29px;font-family:'Liberation Sans', sans-serif;font-size:15.34px;color:#1a1a1a;transform:scaleX(0.954);">Lora</div>
<div class="t" style="left:79.56px;top:407.58px;font-family:'Liberation Sans', sans-serif;font-size:10.79px;color:#1a1a1a;transform:scaleX(0.894);">GNSS</div>
<div class="t" style="left:107.26px;top:406.61px;font-family:'Liberation Sans', sans-serif;font-size:11.68px;color:#1a1a1a;transform:scaleX(1.090);">基站</div>
<div class="t" style="left:6.84px;top:469.16px;font-family:'Liberation Sans', sans-serif;font-size:11.75px;color:#1a1a1a;transform:scaleX(0.836);">GNSS</div>
<div class="t" style="left:8.64px;top:483.96px;font-family:'Liberation Sans', sans-serif;font-size:11.10px;color:#1a1a1a;transform:scaleX(1.126);">测站</div>
<div class="t" style="left:123.64px;top:469.16px;font-family:'Liberation Sans', sans-serif;font-size:11.75px;color:#1a1a1a;transform:scaleX(0.852);">GNSS</div>
<div class="t" style="left:126.09px;top:483.96px;font-family:'Liberation Sans', sans-serif;font-size:11.10px;color:#1a1a1a;transform:scaleX(1.142);">测站</div>
<div class="t" style="left:44.20px;top:474.86px;font-family:'Liberation Sans', sans-serif;font-size:14.29px;color:#1a1a1a;transform:scaleX(1.097);">2-8</div>
<div class="t" style="left:67.73px;top:473.58px;font-family:'Liberation Sans', sans-serif;font-size:15.60px;color:#1a1a1a;transform:scaleX(1.048);">个测站</div>
<div class="t" style="left:42.18px;top:64.96px;font-family:'Liberation Sans', sans-serif;font-size:11.10px;color:#1a1a1a;transform:scaleX(1.161);">雨量计</div>
<div class="t" style="left:27.92px;top:142.93px;font-family:'Liberation Sans', sans-serif;font-size:12.14px;color:#1a1a1a;transform:scaleX(1.036);">雷达水位计</div>
<div class="t" style="left:7.58px;top:236.60px;font-family:'Liberation Sans', sans-serif;font-size:12.30px;color:#1a1a1a;transform:scaleX(1.029);">渗压渗流</div>
<div class="t" style="left:58.05px;top:237.70px;font-family:'Liberation Sans', sans-serif;font-size:12.00px;color:#1a1a1a;transform:scaleX(0.949);">MCU</div>
<div class="t" style="left:24.08px;top:314.99px;font-family:'Liberation Sans', sans-serif;font-size:12.41px;color:#1a1a1a;transform:scaleX(1.025);">摄像头</div>
<div class="t" style="left:356.37px;top:100.35px;font-family:'Liberation Sans', sans-serif;font-size:13.00px;color:#1a1a1a;transform:scaleX(0.856);">LED</div>
<div class="t" style="left:377.70px;top:100.72px;font-family:'Liberation Sans', sans-serif;font-size:12.33px;color:#1a1a1a;transform:scaleX(0.884);">屏</div>
<div class="t" style="left:248.55px;top:311.74px;font-family:'Liberation Serif', serif;font-size:12.64px;color:#111;transform:scaleX(0.838);letter-spacing:0.1em;-webkit-text-stroke:0.25px #111">AltRTU600</div>
<div class="t" style="left:332.97px;top:234.63px;font-family:'Liberation Sans', sans-serif;font-size:14.95px;color:#1a1a1a;transform:scaleX(1.142);">水文规约</div>
<div class="t" style="left:300.85px;top:265.08px;font-family:'Liberation Mono', monospace;font-size:12.61px;color:#1a1a1a;transform:scaleX(0.870);">4G/5G/</div>
<div class="t" style="left:339.54px;top:265.62px;font-family:'Liberation Mono', monospace;font-size:11.24px;color:#1a1a1a;transform:scaleX(1.092);">有线</div>
<div class="t" style="left:363.95px;top:265.15px;font-family:'Liberation Mono', monospace;font-size:12.82px;color:#1a1a1a;transform:scaleX(0.535);">/</div>
<div class="t" style="left:371.68px;top:264.85px;font-family:'Liberation Mono', monospace;font-size:11.28px;color:#1a1a1a;transform:scaleX(1.125);">北斗短报文</div>
<div class="t" style="left:540.04px;top:317.58px;font-family:'Liberation Sans', sans-serif;font-size:10.42px;color:#1a1a1a;transform:scaleX(0.975);letter-spacing:0.16em">水利监控平台</div>
<div class="t" style="left:214.70px;top:484.30px;font-family:'Liberation Sans', sans-serif;font-size:12.10px;color:#1a1a1a;transform:scaleX(1.040);">报警扬声器</div>
<div class="t" style="left:365.34px;top:484.54px;font-family:'Liberation Sans', sans-serif;font-size:12.32px;color:#1a1a1a;transform:scaleX(1.062);">太阳能供电</div>
<div class="t" style="left:322.45px;top:44.92px;font-family:'Liberation Mono', monospace;font-size:13.37px;color:#2ec98c;transform:scaleX(0.953);font-weight:bold">雨量：</div>
<div class="t" style="left:359.48px;top:44.25px;font-family:'Liberation Mono', monospace;font-size:13.33px;color:#2ec98c;transform:scaleX(0.930);font-weight:bold">1.7</div>
<div class="t" style="left:380.38px;top:45.56px;font-family:'Liberation Mono', monospace;font-size:12.60px;color:#2ec98c;transform:scaleX(1.037);font-weight:bold">毫米</div>
<div class="t" style="left:320.42px;top:64.63px;font-family:'Liberation Mono', monospace;font-size:12.82px;color:#cdb57e;transform:scaleX(1.039);font-weight:bold">水位：</div>
<div class="t" style="left:359.12px;top:62.90px;font-family:'Liberation Mono', monospace;font-size:13.33px;color:#cdb57e;transform:scaleX(0.866);font-weight:bold">24.000</div>
<div class="t" style="left:399.02px;top:63.46px;font-family:'Liberation Mono', monospace;font-size:14.16px;color:#cdb57e;transform:scaleX(1.037);font-weight:bold">米</div>
<div class="t" style="left:320.50px;top:83.62px;font-family:'Liberation Mono', monospace;font-size:12.88px;color:#e8455a;transform:scaleX(1.004);font-weight:bold">库容：</div>
<div class="t" style="left:359.83px;top:82.90px;font-family:'Liberation Mono', monospace;font-size:13.33px;color:#e8455a;transform:scaleX(0.861);font-weight:bold">62.435</div>
<div class="t" style="left:400.60px;top:83.03px;font-family:'Liberation Mono', monospace;font-size:13.07px;color:#e8455a;transform:scaleX(0.968);font-weight:bold">万方</div>
</body></html>
